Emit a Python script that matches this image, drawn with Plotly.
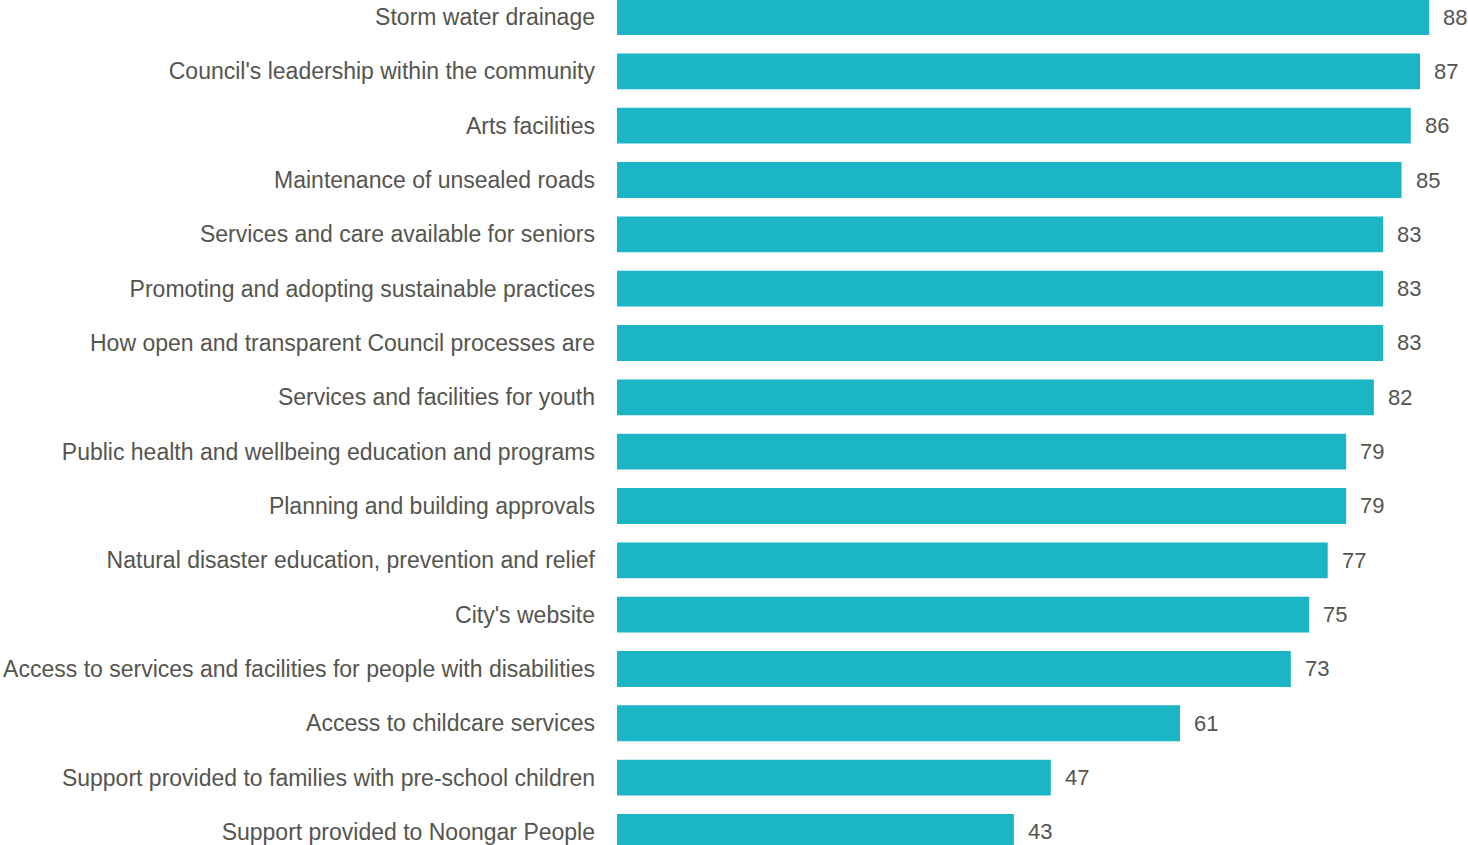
import plotly.graph_objects as go

categories = [
    "Storm water drainage",
    "Council's leadership within the community",
    "Arts facilities",
    "Maintenance of unsealed roads",
    "Services and care available for seniors",
    "Promoting and adopting sustainable practices",
    "How open and transparent Council processes are",
    "Services and facilities for youth",
    "Public health and wellbeing education and programs",
    "Planning and building approvals",
    "Natural disaster education, prevention and relief",
    "City's website",
    "Access to services and facilities for people with disabilities",
    "Access to childcare services",
    "Support provided to families with pre-school children",
    "Support provided to Noongar People",
]
scores = [88, 87, 86, 85, 83, 83, 83, 82, 79, 79, 77, 75, 73, 61, 47, 43]

BAR_COLOR = "#1BB5C6"
TEXT_COLOR = "#55554f"
FONT = "Liberation Sans, Arial, sans-serif"

fig = go.Figure(
    go.Bar(
        x=scores,
        y=categories,
        orientation="h",
        marker=dict(color=BAR_COLOR, line=dict(width=0)),
        width=0.66,
        hoverinfo="x+y",
    )
)

for cat, val in zip(categories, scores):
    fig.add_annotation(
        x=val, y=cat, text=str(val), showarrow=False,
        xanchor="left", yanchor="middle", xshift=12,
        font=dict(family=FONT, size=22, color=TEXT_COLOR),
    )

fig.update_layout(
    width=1468, height=845,
    margin=dict(l=617, r=0, t=0, b=0),
    paper_bgcolor="white", plot_bgcolor="white",
    showlegend=False,
    font=dict(family=FONT, size=23, color=TEXT_COLOR),
    xaxis=dict(range=[0, 92.2], visible=False, fixedrange=True),
    yaxis=dict(
        type="category",
        categoryorder="array", categoryarray=categories,
        range=[15.24, -0.313],
        showline=False, showgrid=False, zeroline=False,
        ticks="", ticklabelstandoff=21,
        tickfont=dict(family=FONT, size=23, color=TEXT_COLOR),
        fixedrange=True,
    ),
)

fig.write_html("out.html")
